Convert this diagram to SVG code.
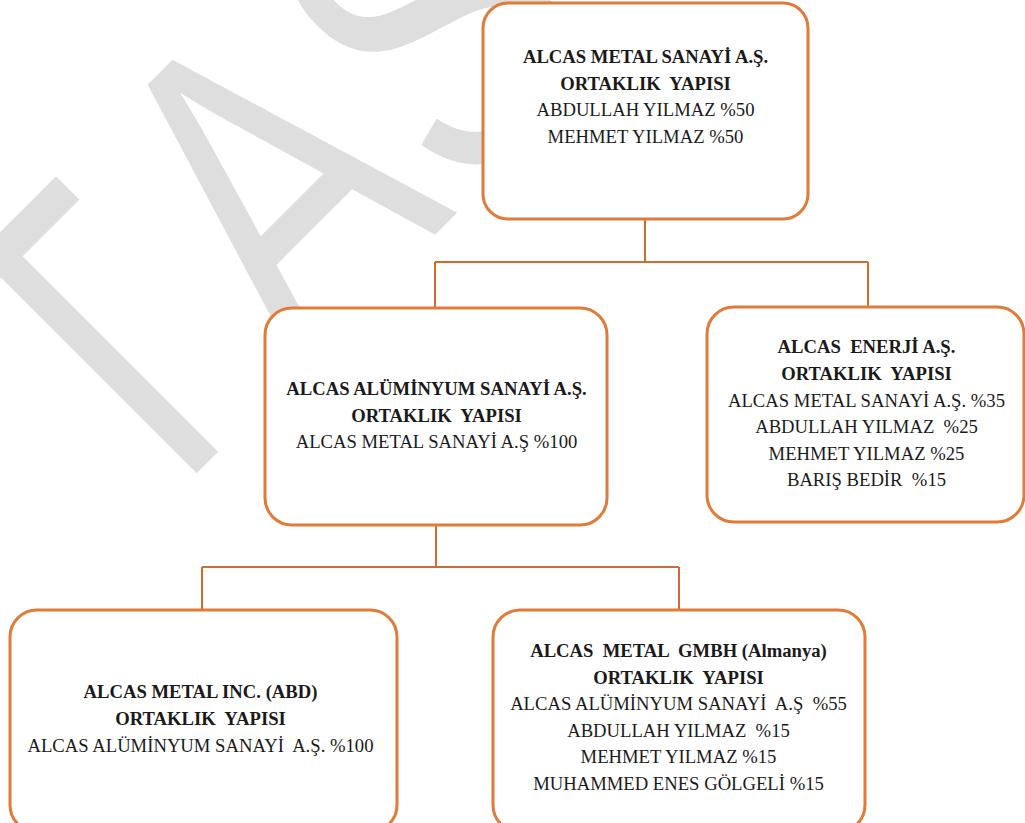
<svg xmlns="http://www.w3.org/2000/svg" width="1025" height="823" viewBox="0 0 1025 823">
<style>
.wm{font-family:"Liberation Sans",Arial,sans-serif;font-size:452px;fill:#dedede;stroke:#ffffff;stroke-width:1.5px;font-kerning:none}
.box{fill:#ffffff;stroke:#e07b39;stroke-width:3}
.conn{fill:none;stroke:#cf6d2c;stroke-width:2}
text.t{font-family:"Liberation Serif","Times New Roman",serif;font-size:18.67px;fill:#1a1a1a;text-anchor:middle;white-space:pre}
.b{font-weight:bold}
</style>
<rect width="1025" height="823" fill="#ffffff"/>
<g id="watermark">
<text class="wm" transform="translate(208,463) rotate(-45) scale(0.75,1)" y="0"><tspan x="-138">T</tspan><tspan x="171.5">A</tspan><tspan x="479.5">S</tspan></text>
</g>
<g id="connectors">
<path class="conn" d="M645,219 V262 M435,262 H868 M435,262 V307 M868,262 V306"/>
<path class="conn" d="M436,525 V567 M202,567 H679 M202,567 V610 M679,567 V610"/>
</g>
<g id="n1">
<rect class="box" x="483" y="3" width="325" height="216" rx="25"/>
<text class="t b" x="645.5" y="63">ALCAS METAL SANAYİ A.Ş.</text>
<text class="t b" x="645.5" y="89.5">ORTAKLIK  YAPISI</text>
<text class="t" x="645.5" y="116">ABDULLAH YILMAZ %50</text>
<text class="t" x="645.5" y="142.5">MEHMET YILMAZ %50</text>
</g>
<g id="n2">
<rect class="box" x="265" y="308" width="342" height="217" rx="27"/>
<text class="t b" x="436.5" y="395">ALCAS ALÜMİNYUM SANAYİ A.Ş.</text>
<text class="t b" x="436.5" y="421.5">ORTAKLIK  YAPISI</text>
<text class="t" x="436.5" y="448">ALCAS METAL SANAYİ A.Ş %100</text>
</g>
<g id="n3">
<rect class="box" x="707" y="307" width="317" height="215" rx="27"/>
<text class="t b" x="866.5" y="353">ALCAS  ENERJİ A.Ş.</text>
<text class="t b" x="866.5" y="380">ORTAKLIK  YAPISI</text>
<text class="t" x="866.5" y="406.5">ALCAS METAL SANAYİ A.Ş. %35</text>
<text class="t" x="866.5" y="433">ABDULLAH YILMAZ  %25</text>
<text class="t" x="866.5" y="459.5">MEHMET YILMAZ %25</text>
<text class="t" x="866.5" y="486">BARIŞ BEDİR  %15</text>
</g>
<g id="n4">
<rect class="box" x="10" y="610" width="387" height="222" rx="27"/>
<text class="t b" x="200.5" y="698">ALCAS METAL INC. (ABD)</text>
<text class="t b" x="200.5" y="725">ORTAKLIK  YAPISI</text>
<text class="t" x="200.5" y="751.5">ALCAS ALÜMİNYUM SANAYİ  A.Ş. %100</text>
</g>
<g id="n5">
<rect class="box" x="493" y="610" width="372" height="222" rx="27"/>
<text class="t b" x="678.5" y="657">ALCAS  METAL  GMBH (Almanya)</text>
<text class="t b" x="678.5" y="683.5">ORTAKLIK  YAPISI</text>
<text class="t" x="678.5" y="710">ALCAS ALÜMİNYUM SANAYİ  A.Ş  %55</text>
<text class="t" x="678.5" y="736.5">ABDULLAH YILMAZ  %15</text>
<text class="t" x="678.5" y="763">MEHMET YILMAZ %15</text>
<text class="t" x="678.5" y="789.5">MUHAMMED ENES GÖLGELİ %15</text>
</g>
</svg>
